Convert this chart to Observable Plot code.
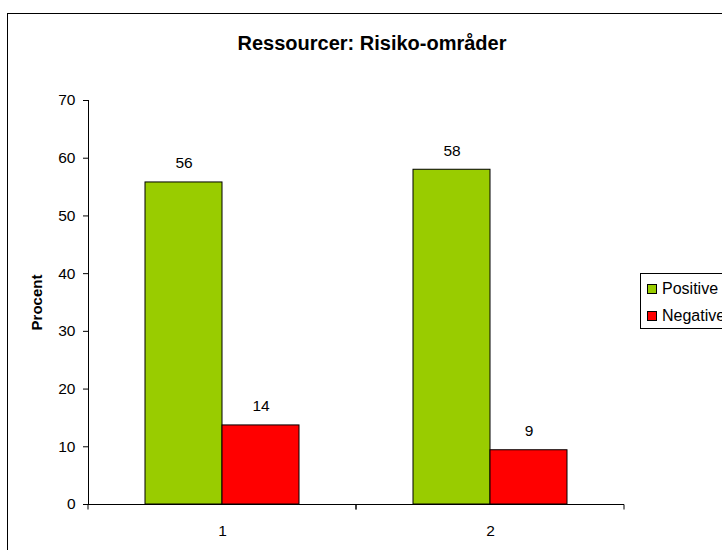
<!DOCTYPE html>
<html>
<head>
<meta charset="utf-8">
<script src="https://cdn.jsdelivr.net/npm/d3@7"></script>
<script src="https://cdn.jsdelivr.net/npm/@observablehq/plot@0.6"></script>
<style>
  html, body { margin: 0; padding: 0; background: #fff; overflow: hidden; }
  #wrap { position: relative; width: 722px; height: 550px; overflow: hidden; font-family: "Liberation Sans", Arial, sans-serif; color: #000; }
  #border { position: absolute; left: 7px; top: 13px; width: 760px; height: 600px; border: 1px solid #000; box-sizing: border-box; }
  #title { position: absolute; left: 7px; width: 730px; top: 32px; text-align: center; font-weight: bold; font-size: 20px; }
  #chart { position: absolute; left: 0; top: 0; }
  #legend { position: absolute; left: 640px; top: 273px; width: 100px; height: 56px; border: 1px solid #000; box-sizing: border-box; background: #fff; font-size: 16px; }
  .item { position: absolute; left: 6px; height: 18px; line-height: 18px; white-space: nowrap; }
  .sw { display: inline-block; width: 8px; height: 8px; border: 1px solid #000; margin-right: 5px; vertical-align: 0px; }
</style>
</head>
<body>
<div id="wrap">
  <div id="border"></div>
  <div id="chart"></div>
  <div id="title"></div>
  <div id="legend"></div>
</div>
<script>
const titleText = "Ressourcer: Risiko-områder";
const yLabel = "Procent";
const categories = ["1", "2"];
const series = ["Positive", "Negative"];
const positive = [55.8, 58.0];
const negative = [13.7, 9.4];
const colors = ["#99CC00", "#FF0000"];
const yTicks = [0, 10, 20, 30, 40, 50, 60, 70];

const data = categories.flatMap((c, i) => [
  {cat: c, series: series[0], value: positive[i]},
  {cat: c, series: series[1], value: negative[i]}
]);

document.getElementById("title").textContent = titleText;

const chart = Plot.plot({
  width: 722,
  height: 550,
  marginLeft: 88,
  marginRight: 98,
  marginTop: 100,
  marginBottom: 46,
  style: {fontFamily: "'Liberation Sans', Arial, sans-serif", fontSize: "15px", color: "#000", background: "transparent", overflow: "visible"},
  fx: {domain: categories, padding: 0, label: null},
  x: {domain: series, paddingInner: 0, paddingOuter: 0.74, axis: null},
  y: {domain: [0, 70], label: null},
  color: {domain: series, range: colors},
  marks: [
    Plot.axisY({ticks: yTicks, tickSize: 5, tickPadding: 8, label: null, fontSize: 15.5}),
    Plot.axisFx({anchor: "bottom", tickSize: 0, tickPadding: 20, label: null, fontSize: 15.5}),
    Plot.barY(data, {fx: "cat", x: "series", y: "value", fill: "series", stroke: "#000", strokeWidth: 1}),
    Plot.text(data, {fx: "cat", x: "series", y: "value", text: d => d3.format(".0f")(d.value), dy: -19, lineAnchor: "middle", fontSize: 15.5}),
    Plot.ruleY([0], {
      stroke: "#000",
      render(index, scales, values, dimensions, context, next) {
        const g = next(index, scales, values, dimensions, context);
        const line = g.querySelector("line");
        if (line) {
          const x1 = +line.getAttribute("x1"), x2 = +line.getAttribute("x2");
          let y = +line.getAttribute("y1");
          if (!line.hasAttribute("y1")) y = +line.getAttribute("y");
          for (const x of [x1, x2]) {
            const t = document.createElementNS("http://www.w3.org/2000/svg", "line");
            t.setAttribute("x1", x); t.setAttribute("x2", x);
            t.setAttribute("y1", y); t.setAttribute("y2", y + 5);
            t.setAttribute("stroke", "#000");
            line.parentNode.appendChild(t);
          }
        }
        return g;
      }
    }),
    Plot.frame({anchor: "left", facetAnchor: "left"}),
    Plot.text([yLabel], {frameAnchor: "left", facetAnchor: "left", rotate: -90, textAnchor: "middle", dx: -51, fontWeight: "bold", fontSize: 15})
  ]
});
document.getElementById("chart").appendChild(chart);

const legend = document.getElementById("legend");
series.forEach((s, i) => {
  const item = document.createElement("div");
  item.className = "item";
  item.style.top = (6 + i * 27) + "px";
  const sw = document.createElement("span");
  sw.className = "sw";
  sw.style.background = colors[i];
  item.appendChild(sw);
  item.appendChild(document.createTextNode(s));
  legend.appendChild(item);
});
</script>
</body>
</html>
